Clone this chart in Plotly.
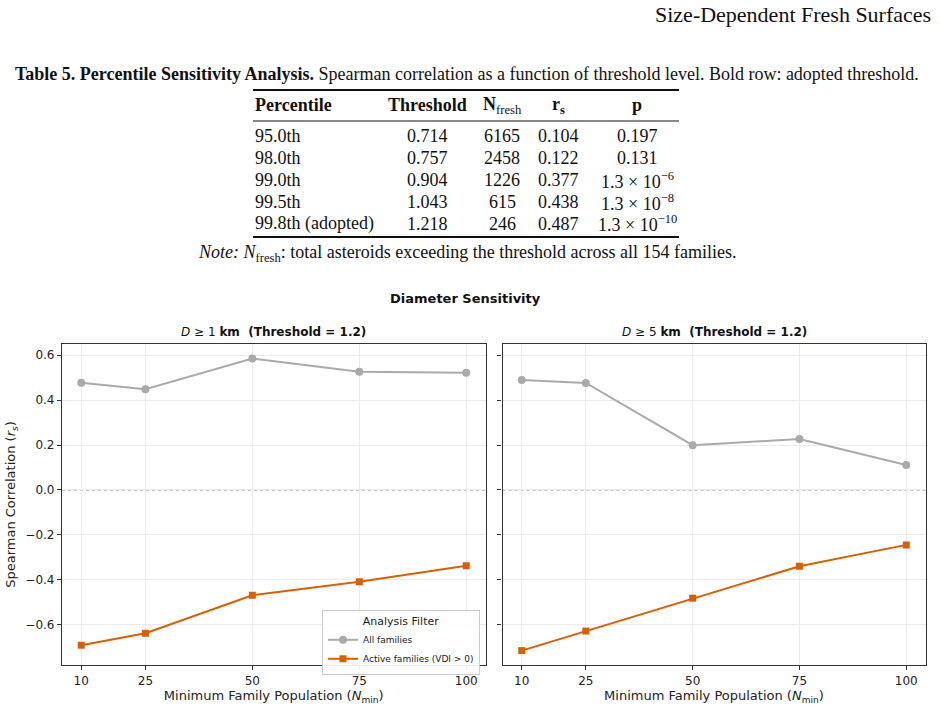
import plotly.graph_objects as go

# ---------------- data ----------------
n_min = [10, 25, 50, 75, 100]
d1_all = [0.477, 0.448, 0.584, 0.526, 0.521]
d1_active = [-0.690, -0.637, -0.468, -0.408, -0.337]
d5_all = [0.489, 0.476, 0.199, 0.227, 0.111]
d5_active = [-0.714, -0.627, -0.481, -0.339, -0.244]

y_ticks = [-0.6, -0.4, -0.2, 0.0, 0.2, 0.4, 0.6]
y_ticklabels = ["\u22120.6", "\u22120.4", "\u22120.2", "0.0", "0.2", "0.4", "0.6"]

tbl_percentile = ["95.0th", "98.0th", "99.0th", "99.5th", "99.8th (adopted)"]
tbl_threshold = ["0.714", "0.757", "0.904", "1.043", "1.218"]
tbl_nfresh = ["6165", "2458", "1226", "615", "246"]
tbl_rs = ["0.104", "0.122", "0.377", "0.438", "0.487"]
tbl_p = ["0.197", "0.131", "1.3 \u00d7 10<sup>\u22126</sup>",
         "1.3 \u00d7 10<sup>\u22128</sup>", "1.3 \u00d7 10<sup>\u221210</sup>"]

GRAY = "#aaaaaa"
ORANGE = "#d95f02"
W, H = 940, 708
SERIF = "Liberation Serif"
SANS = "DejaVu Sans"

def px(x):
    return x / W

def py(y):
    return 1 - y / H

fig = go.Figure()

panels = [("x", "y", d1_all, d1_active, True), ("x2", "y2", d5_all, d5_active, False)]
for xa, ya, all_v, act_v, show in panels:
    fig.add_trace(go.Scatter(
        x=n_min, y=all_v, xaxis=xa, yaxis=ya, mode="lines+markers",
        name="All families", legendgroup="all", showlegend=show,
        line=dict(color=GRAY, width=2),
        marker=dict(symbol="circle", size=8, color=GRAY)))
    fig.add_trace(go.Scatter(
        x=n_min, y=act_v, xaxis=xa, yaxis=ya, mode="lines+markers",
        name="Active families (VDI > 0)", legendgroup="act", showlegend=show,
        line=dict(color=ORANGE, width=2),
        marker=dict(symbol="square", size=7, color=ORANGE)))

xr = [5.5, 104.5]
yr = [-0.778, 0.649]
common_x = dict(range=xr, tickvals=n_min, ticktext=[str(v) for v in n_min],
                showgrid=True, gridcolor="#ebebeb", gridwidth=1,
                showline=True, linecolor="#333333", linewidth=1.2, mirror=True,
                ticks="outside", ticklen=4, tickcolor="#333333",
                tickfont=dict(family=SANS, size=12, color="#222222"),
                zeroline=False,
                title=dict(text="Minimum Family Population (<i>N</i><sub>min</sub>)",
                           font=dict(family=SANS, size=13, color="#222222"), standoff=4))
common_y = dict(range=yr, tickvals=y_ticks, ticktext=y_ticklabels,
                showgrid=True, gridcolor="#ebebeb", gridwidth=1,
                showline=True, linecolor="#333333", linewidth=1.2, mirror=True,
                ticks="outside", ticklen=4, tickcolor="#333333",
                tickfont=dict(family=SANS, size=12, color="#222222"),
                zeroline=False)

fig.update_layout(
    xaxis=dict(domain=[px(62), px(485.5)], anchor="y", **common_x),
    xaxis2=dict(domain=[px(502.5), px(925.5)], anchor="y2", **common_x),
    yaxis=dict(domain=[py(665), py(344)], anchor="x",
               title=dict(text="Spearman Correlation (<i>r<sub>s</sub></i>)",
                          font=dict(family=SANS, size=13, color="#222222"), standoff=6),
               **common_y),
    yaxis2=dict(domain=[py(665), py(344)], anchor="x2", showticklabels=False, **common_y),
)

# zero reference lines
for xa, ya in [("x", "y"), ("x2", "y2")]:
    fig.add_shape(type="line", xref=xa + " domain", yref=ya, x0=0, x1=1, y0=0, y1=0,
                  line=dict(color="#777777", width=0.9, dash="dot"), layer="below")

TS = 18  # table font size
ann = []
# page header
ann.append(dict(text="Size-Dependent Fresh Surfaces", x=px(933), y=py(15), xanchor="right",
                yanchor="middle", font=dict(family=SERIF, size=22, color="#111111")))
# caption
ann.append(dict(text="<b>Table 5. Percentile Sensitivity Analysis.</b> Spearman correlation as a "
                     "function of threshold level. Bold row: adopted threshold.",
                x=px(467), y=py(74), xanchor="center", yanchor="middle",
                font=dict(family=SERIF, size=TS, color="#111111")))
# table header
hdr_y = py(105)
col_x = {"pct": 253, "thr": 427.5, "nf": 502, "rs": 558, "p": 637}
ann.append(dict(text="<b>Percentile</b>", x=px(col_x["pct"]), y=hdr_y, xanchor="left", yanchor="middle",
                font=dict(family=SERIF, size=TS, color="#111111")))
ann.append(dict(text="<b>Threshold</b>", x=px(col_x["thr"]), y=hdr_y, xanchor="center", yanchor="middle",
                font=dict(family=SERIF, size=TS, color="#111111")))
ann.append(dict(text="<b>N</b><sub>fresh</sub>", x=px(col_x["nf"]), y=hdr_y, xanchor="center", yanchor="middle",
                font=dict(family=SERIF, size=TS, color="#111111")))
ann.append(dict(text="<b>r</b><sub><b>s</b></sub>", x=px(col_x["rs"]), y=hdr_y, xanchor="center", yanchor="middle",
                font=dict(family=SERIF, size=TS, color="#111111")))
ann.append(dict(text="<b>p</b>", x=px(col_x["p"]), y=hdr_y, xanchor="center", yanchor="middle",
                font=dict(family=SERIF, size=TS, color="#111111")))
row_y = [136, 158, 180, 202, 224]
for i in range(len(tbl_percentile)):
    yy = py(row_y[i])
    f = dict(family=SERIF, size=TS, color="#111111")
    ann.append(dict(text=tbl_percentile[i], x=px(col_x["pct"]), y=yy, xanchor="left", yanchor="middle", font=f))
    ann.append(dict(text=tbl_threshold[i], x=px(col_x["thr"]), y=yy, xanchor="center", yanchor="middle", font=f))
    ann.append(dict(text=tbl_nfresh[i], x=px(col_x["nf"]), y=yy, xanchor="center", yanchor="middle", font=f))
    ann.append(dict(text=tbl_rs[i], x=px(col_x["rs"]), y=yy, xanchor="center", yanchor="middle", font=f))
    ann.append(dict(text=tbl_p[i], x=px(col_x["p"]), y=yy, xanchor="center", yanchor="middle", font=f))
# note
ann.append(dict(text="<i>Note:</i> <i>N</i><sub>fresh</sub>: total asteroids exceeding the threshold across all 154 families.",
                x=px(467), y=py(253), xanchor="center", yanchor="middle",
                font=dict(family=SERIF, size=TS, color="#111111")))
# suptitle and panel titles
ann.append(dict(text="<b>Diameter Sensitivity</b>", x=px(465), y=py(298), xanchor="center", yanchor="middle",
                font=dict(family=SANS, size=13, color="#111111")))
ann.append(dict(text="<i>D</i> \u2265 1 <b>km\u00a0\u00a0(Threshold = 1.2)</b>", x=px(273), y=py(332),
                xanchor="center", yanchor="middle", font=dict(family=SANS, size=12, color="#111111")))
ann.append(dict(text="<i>D</i> \u2265 5 <b>km\u00a0\u00a0(Threshold = 1.2)</b>", x=px(714), y=py(332),
                xanchor="center", yanchor="middle", font=dict(family=SANS, size=12, color="#111111")))
for a in ann:
    a.update(xref="paper", yref="paper", showarrow=False)

shapes = [
    dict(type="line", xref="paper", yref="paper", x0=px(253), x1=px(679), y0=py(90), y1=py(90),
         line=dict(color="#111111", width=2)),
    dict(type="line", xref="paper", yref="paper", x0=px(253), x1=px(679), y0=py(121), y1=py(121),
         line=dict(color="#111111", width=1)),
    dict(type="line", xref="paper", yref="paper", x0=px(253), x1=px(679), y0=py(237), y1=py(237),
         line=dict(color="#111111", width=2)),
]
for s in shapes:
    fig.add_shape(**s)

fig.update_layout(
    width=W, height=H, margin=dict(l=0, r=0, t=0, b=0),
    paper_bgcolor="white", plot_bgcolor="white",
    annotations=ann,
    legend=dict(x=px(480), y=py(610), xanchor="right", yanchor="top",
                bgcolor="rgba(255,255,255,0.9)", bordercolor="#cccccc", borderwidth=1,
                font=dict(family=SANS, size=9, color="#222222"),
                title=dict(text="Analysis Filter", side="top center",
                           font=dict(family=SANS, size=11, color="#222222")),
                itemwidth=30, tracegroupgap=0),
    showlegend=True,
)

fig.write_html("out.html")
